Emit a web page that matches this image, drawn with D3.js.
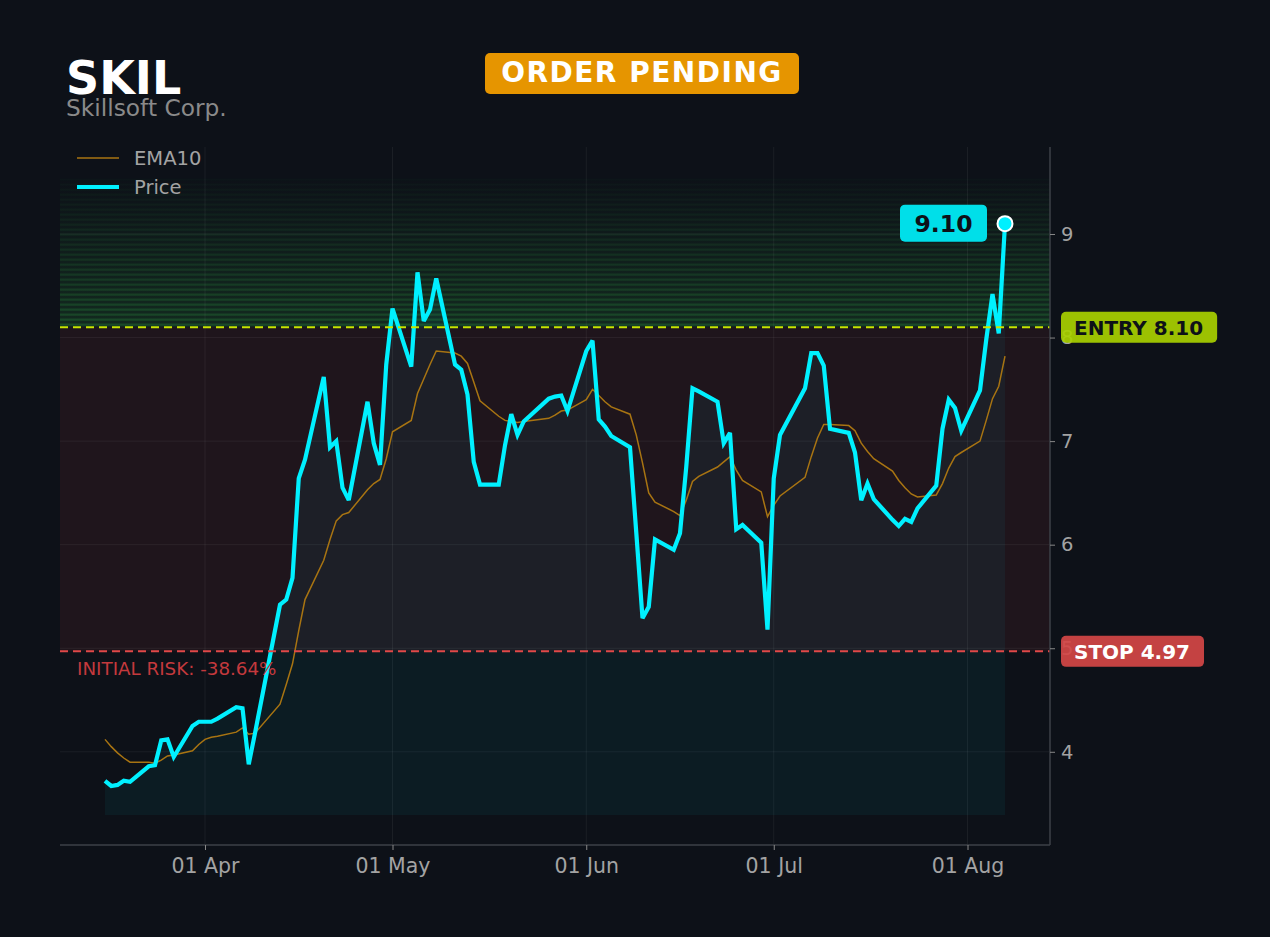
<!DOCTYPE html>
<html>
<head>
<meta charset="utf-8">
<script src="https://cdn.jsdelivr.net/npm/d3@7/dist/d3.min.js"></script>
<style>
  html, body { margin: 0; padding: 0; background: #0d1118; }
  svg { display: block; font-family: "DejaVu Sans", sans-serif; }
</style>
</head>
<body>
<svg id="chart" width="1270" height="937"></svg>
<script>
const ticker = "SKIL";
const company = "Skillsoft Corp.";
const status = "ORDER PENDING";
const entryPrice = 8.10;
const stopPrice = 4.97;

const dates = [
  "2020-03-16","2020-03-17","2020-03-18","2020-03-19","2020-03-20",
  "2020-03-23","2020-03-24","2020-03-25","2020-03-26","2020-03-27",
  "2020-03-30","2020-03-31","2020-04-01","2020-04-02","2020-04-03",
  "2020-04-06","2020-04-07","2020-04-08","2020-04-09",
  "2020-04-13","2020-04-14","2020-04-15","2020-04-16","2020-04-17",
  "2020-04-20","2020-04-21","2020-04-22","2020-04-23","2020-04-24",
  "2020-04-27","2020-04-28","2020-04-29","2020-04-30","2020-05-01",
  "2020-05-04","2020-05-05","2020-05-06","2020-05-07","2020-05-08",
  "2020-05-11","2020-05-12","2020-05-13","2020-05-14","2020-05-15",
  "2020-05-18","2020-05-19","2020-05-20","2020-05-21","2020-05-22",
  "2020-05-26","2020-05-27","2020-05-28","2020-05-29",
  "2020-06-01","2020-06-02","2020-06-03","2020-06-04","2020-06-05",
  "2020-06-08","2020-06-09","2020-06-10","2020-06-11","2020-06-12",
  "2020-06-15","2020-06-16","2020-06-17","2020-06-18","2020-06-19",
  "2020-06-22","2020-06-23","2020-06-24","2020-06-25","2020-06-26",
  "2020-06-29","2020-06-30","2020-07-01","2020-07-02",
  "2020-07-06","2020-07-07","2020-07-08","2020-07-09","2020-07-10",
  "2020-07-13","2020-07-14","2020-07-15","2020-07-16","2020-07-17",
  "2020-07-20","2020-07-21","2020-07-22","2020-07-23","2020-07-24",
  "2020-07-27","2020-07-28","2020-07-29","2020-07-30","2020-07-31",
  "2020-08-03","2020-08-04","2020-08-05","2020-08-06","2020-08-07"
];

const price = [
  3.72,3.67,3.68,3.72,3.71,
  3.86,3.87,4.11,4.12,3.95,
  4.25,4.29,4.29,4.29,4.32,
  4.43,4.42,3.88,4.18,
  5.42,5.47,5.68,6.64,6.82,
  7.62,6.94,7.00,6.55,6.43,
  7.38,6.98,6.77,7.74,8.28,
  7.72,8.63,8.16,8.27,8.57,
  7.74,7.69,7.45,6.80,6.58,
  6.58,6.96,7.26,7.06,7.19,
  7.41,7.43,7.44,7.29,
  7.87,7.97,7.21,7.14,7.05,
  6.94,6.12,5.29,5.40,6.05,
  5.95,6.11,6.75,7.51,7.48,
  7.38,6.98,7.08,6.15,6.19,
  6.02,5.18,6.64,7.06,
  7.51,7.85,7.85,7.73,7.12,
  7.08,6.89,6.43,6.59,6.44,
  6.24,6.18,6.25,6.22,6.35,
  6.57,7.12,7.40,7.32,7.10,
  7.49,7.98,8.42,8.04,9.10
];

const ema10 = [
  4.12,4.05,3.99,3.94,3.90,
  3.90,3.89,3.92,3.96,3.97,
  4.01,4.07,4.12,4.14,4.15,
  4.19,4.23,4.17,4.18,
  4.46,4.65,4.85,5.17,5.47,
  5.85,6.05,6.23,6.29,6.31,
  6.53,6.59,6.63,6.83,7.09,
  7.20,7.46,7.60,7.74,7.87,
  7.85,7.82,7.75,7.57,7.39,
  7.24,7.20,7.19,7.18,7.19,
  7.22,7.25,7.29,7.30,
  7.40,7.50,7.44,7.38,7.33,
  7.26,7.06,6.79,6.50,6.41,
  6.32,6.28,6.43,6.61,6.66,
  6.75,6.80,6.85,6.72,6.62,
  6.51,6.27,6.38,6.47,
  6.65,6.85,7.03,7.16,7.16,
  7.15,7.10,6.98,6.90,6.83,
  6.71,6.62,6.55,6.49,6.46,
  6.48,6.59,6.74,6.85,6.89,
  7.00,7.20,7.41,7.53,7.82
];

const yTicks = [4, 5, 6, 7, 8, 9];
const yDomain = [3.10, 9.84];
const areaBase = 3.39;
const greenTop = 9.55;

// ---------- setup ----------
const svg = d3.select("#chart");
const W = 1270, H = 937;
const plot = { left: 60, right: 1050, top: 147, bottom: 845 };
const parse = d3.utcParse("%Y-%m-%d");
const data = dates.map((d, i) => ({ date: parse(d), price: price[i], ema: ema10[i] }));

const first = data[0].date, last = data[data.length - 1].date;
const span = last - first;
const x = d3.scaleUtc()
  .domain([new Date(+first - span * 0.05), new Date(+last + span * 0.05)])
  .range([plot.left, plot.right]);
const y = d3.scaleLinear().domain(yDomain).range([plot.bottom, plot.top]);

svg.append("rect").attr("width", W).attr("height", H).attr("fill", "#0d1118");

const defs = svg.append("defs");
const gg = defs.append("linearGradient").attr("id", "greenGrad")
  .attr("x1", 0).attr("y1", 0).attr("x2", 0).attr("y2", 1);
gg.append("stop").attr("offset", "0%").attr("stop-color", "#2ea043").attr("stop-opacity", 0.0);
gg.append("stop").attr("offset", "35%").attr("stop-color", "#2ea043").attr("stop-opacity", 0.06);
gg.append("stop").attr("offset", "100%").attr("stop-color", "#2ea043").attr("stop-opacity", 0.17);

// red risk zone
svg.append("rect")
  .attr("x", plot.left).attr("width", plot.right - plot.left)
  .attr("y", y(entryPrice)).attr("height", y(stopPrice) - y(entryPrice))
  .attr("fill", "rgb(255,82,82)").attr("fill-opacity", 0.075);

// green profit zone (gradient + stripes)
svg.append("rect")
  .attr("x", plot.left).attr("width", plot.right - plot.left)
  .attr("y", y(greenTop)).attr("height", y(entryPrice) - y(greenTop))
  .attr("fill", "url(#greenGrad)");
const nStripes = 30;
const stripeG = svg.append("g");
for (let i = 0; i < nStripes; i++) {
  const v = entryPrice + (greenTop - entryPrice) * (i + 0.5) / nStripes;
  const t = 1 - i / nStripes;
  stripeG.append("line")
    .attr("x1", plot.left).attr("x2", plot.right)
    .attr("y1", y(v)).attr("y2", y(v))
    .attr("stroke", "#2ea043").attr("stroke-width", 2.2)
    .attr("stroke-opacity", 0.03 + 0.25 * Math.pow(t, 1.3));
}

// grid
const monthTicks = d3.utcMonth.range(d3.utcMonth.ceil(x.domain()[0]), x.domain()[1]);
svg.append("g").selectAll("line").data(yTicks).join("line")
  .attr("x1", plot.left).attr("x2", plot.right)
  .attr("y1", d => y(d)).attr("y2", d => y(d))
  .attr("stroke", "#ffffff").attr("stroke-opacity", 0.06);
svg.append("g").selectAll("line").data(monthTicks).join("line")
  .attr("x1", d => x(d)).attr("x2", d => x(d))
  .attr("y1", plot.top).attr("y2", plot.bottom)
  .attr("stroke", "#ffffff").attr("stroke-opacity", 0.06);

// area under price
svg.append("path").datum(data)
  .attr("d", d3.area().x(d => x(d.date)).y0(y(areaBase)).y1(d => y(d.price)))
  .attr("fill", "rgb(0,229,255)").attr("fill-opacity", 0.05);

// EMA line
svg.append("path").datum(data)
  .attr("d", d3.line().x(d => x(d.date)).y(d => y(d.ema)))
  .attr("fill", "none").attr("stroke", "#a87412").attr("stroke-width", 1.5);

// price line
svg.append("path").datum(data)
  .attr("d", d3.line().x(d => x(d.date)).y(d => y(d.price)))
  .attr("fill", "none").attr("stroke", "#00f0ff").attr("stroke-width", 4.2)
  .attr("stroke-linejoin", "miter").attr("stroke-miterlimit", 3);

// entry / stop lines
svg.append("line")
  .attr("x1", plot.left).attr("x2", plot.right)
  .attr("y1", y(entryPrice)).attr("y2", y(entryPrice))
  .attr("stroke", "#c8e600").attr("stroke-width", 2).attr("stroke-dasharray", "8,5");
svg.append("line")
  .attr("x1", plot.left).attr("x2", plot.right)
  .attr("y1", y(stopPrice)).attr("y2", y(stopPrice))
  .attr("stroke", "#e04848").attr("stroke-width", 2).attr("stroke-dasharray", "8,5");

// axes
const axisColor = "#3c4147";
const tickText = "#a3a3a3";
const yAxis = svg.append("g").attr("transform", `translate(${plot.right},0)`)
  .call(d3.axisRight(y).tickValues(yTicks).tickSize(5).tickSizeOuter(0).tickPadding(6).tickFormat(d3.format("d")));
const xAxis = svg.append("g").attr("transform", `translate(0,${plot.bottom})`)
  .call(d3.axisBottom(x).tickValues(monthTicks).tickSize(5).tickSizeOuter(0).tickPadding(8).tickFormat(d3.utcFormat("%d %b")));
[yAxis, xAxis].forEach(a => {
  a.select(".domain").attr("stroke", axisColor).attr("stroke-width", 1.5);
  a.selectAll(".tick line").attr("stroke", "#888").attr("stroke-width", 1);
  a.selectAll(".tick text").attr("fill", tickText).attr("font-family", "DejaVu Sans");
});
yAxis.selectAll(".tick text").attr("font-size", 19.5);
xAxis.selectAll(".tick text").attr("font-size", 20.5);
yAxis.select(".domain").attr("d", `M0,${plot.top}V${plot.bottom}`);
xAxis.select(".domain").attr("d", `M${plot.left},0H${plot.right}`);

// initial risk text
const risk = (stopPrice - entryPrice) / entryPrice * 100;
svg.append("text").attr("x", 77).attr("y", y(stopPrice) + 24)
  .attr("fill", "#c4393d").attr("font-size", 18.3)
  .text(`INITIAL RISK: ${risk.toFixed(2)}%`);

// entry / stop labels
function tag(val, text, fill, color) {
  const g = svg.append("g");
  const t = g.append("text").attr("x", plot.right + 24).attr("y", y(val) + 7.5)
    .attr("font-size", 20).attr("font-weight", "bold").attr("fill", color).text(text);
  const w = t.node().getComputedTextLength();
  g.insert("rect", "text")
    .attr("x", plot.right + 11).attr("y", y(val) - 15.5)
    .attr("width", w + 27).attr("height", 31).attr("rx", 5)
    .attr("fill", fill).attr("fill-opacity", 0.92);
}
tag(entryPrice, `ENTRY ${entryPrice.toFixed(2)}`, "#a8d000", "#0d1118");
tag(stopPrice, `STOP ${stopPrice.toFixed(2)}`, "#d44646", "#ffffff");

// last price marker + label
const lastD = data[data.length - 1];
const lx = x(lastD.date), ly = y(lastD.price);
svg.append("rect").attr("x", lx - 105).attr("y", ly - 19).attr("width", 87).attr("height", 37)
  .attr("rx", 5).attr("fill", "#00dfe9");
svg.append("text").attr("x", lx - 61.5).attr("y", ly + 8.5).attr("text-anchor", "middle")
  .attr("font-size", 23.5).attr("font-weight", "bold").attr("fill", "#0d1118")
  .text(lastD.price.toFixed(2));
svg.append("circle").attr("cx", lx).attr("cy", ly).attr("r", 7.5)
  .attr("fill", "#00f0ff").attr("stroke", "#ffffff").attr("stroke-width", 2);

// legend
const legend = svg.append("g");
legend.append("line").attr("x1", 77).attr("x2", 119).attr("y1", 158).attr("y2", 158)
  .attr("stroke", "#a87412").attr("stroke-width", 1.5);
legend.append("text").attr("x", 134).attr("y", 165).attr("fill", "#a3a3a3").attr("font-size", 19.5).text("EMA10");
legend.append("line").attr("x1", 77).attr("x2", 119).attr("y1", 187).attr("y2", 187)
  .attr("stroke", "#00f0ff").attr("stroke-width", 4);
legend.append("text").attr("x", 134).attr("y", 194).attr("fill", "#a3a3a3").attr("font-size", 19.5).text("Price");

// title
svg.append("text").attr("x", 66).attr("y", 94).attr("fill", "#ffffff")
  .attr("font-size", 46).attr("font-weight", "bold").text(ticker);
svg.append("text").attr("x", 66).attr("y", 116).attr("fill", "#8a8a8a")
  .attr("font-size", 23.3).text(company);

// status badge
const badge = svg.append("g");
badge.append("rect").attr("x", 485).attr("y", 53).attr("width", 314).attr("height", 41)
  .attr("rx", 5).attr("fill", "#e69500");
badge.append("text").attr("x", 642).attr("y", 82).attr("text-anchor", "middle")
  .attr("font-size", 28).attr("font-weight", "bold").attr("fill", "#ffffff")
  .attr("letter-spacing", 1.5).text(status);
</script>
</body>
</html>
